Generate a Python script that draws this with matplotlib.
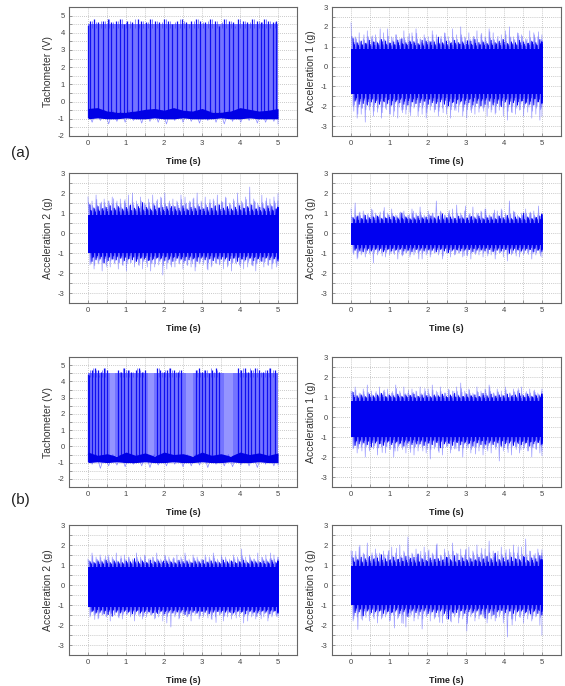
import numpy as np
import matplotlib
matplotlib.use("Agg")
import matplotlib.pyplot as plt
from matplotlib.ticker import MultipleLocator

plt.rcParams['font.family'] = ['Liberation Sans', 'DejaVu Sans']
plt.rcParams['axes.unicode_minus'] = False

# ---------------- data ----------------
time_ticks = [0, 1, 2, 3, 4, 5]
panel_labels = ["(a)", "(b)"]
ylabels = ["Tachometer (V)", "Acceleration 1 (g)", "Acceleration 2 (g)", "Acceleration 3 (g)"]

# Tachometer pulse times (s) and pulse top values (V)
tacho_a_pulses = [0.04, 0.15, 0.27, 0.39, 0.52, 0.61, 0.73, 0.84, 0.96, 1.03, 1.17, 1.31, 1.40, 1.52,
                  1.63, 1.75, 1.88, 1.99, 2.10, 2.21, 2.35, 2.47, 2.58, 2.72, 2.84, 2.96, 3.08, 3.21,
                  3.33, 3.45, 3.58, 3.70, 3.81, 3.94, 4.07, 4.19, 4.31, 4.44, 4.55, 4.63, 4.74, 4.86, 4.96]
tacho_a_tops = [4.7, 4.8, 4.6, 4.7, 4.8, 4.6, 4.7, 4.8, 4.5, 4.7, 4.6, 4.8, 4.7, 4.6,
                4.8, 4.7, 4.6, 4.8, 4.7, 4.5, 4.7, 4.8, 4.6, 4.7, 4.8, 4.7, 4.6, 4.8,
                4.7, 4.4, 4.8, 4.7, 4.6, 4.8, 4.7, 4.6, 4.8, 4.7, 4.6, 4.8, 4.7, 4.6, 4.7]
tacho_b_pulses = [0.03, 0.10, 0.18, 0.26, 0.33, 0.41, 0.50, 0.80, 0.88, 0.95, 1.04, 1.12,
                  1.25, 1.33, 1.41, 1.50, 1.82, 1.90, 1.99, 2.08, 2.17, 2.27, 2.36, 2.45,
                  2.83, 2.91, 3.00, 3.09, 3.18, 3.27, 3.36, 3.45, 3.95, 4.03, 4.12, 4.21,
                  4.30, 4.40, 4.50, 4.60, 4.70, 4.80, 4.92]
tacho_b_tops = [4.4, 4.7, 4.8, 4.7, 4.6, 4.8, 4.7, 4.7, 4.6, 4.8, 4.7, 4.6,
                4.7, 4.8, 4.6, 4.7, 4.8, 4.7, 4.6, 4.7, 4.8, 4.7, 4.6, 4.7,
                4.7, 4.8, 4.6, 4.7, 4.5, 4.7, 4.8, 4.6, 4.8, 4.7, 4.8, 4.6,
                4.7, 4.8, 4.7, 4.6, 4.7, 4.8, 4.7]
tacho_b_gaps = [(0.58, 0.72), (1.58, 1.74), (2.58, 2.76), (3.58, 3.82)]

# Tachometer low-level band (every 0.25 s)
tacho_a_base_hi = [-0.40, -0.35, -0.55, -0.60, -0.60, -0.55, -0.45, -0.40, -0.50, -0.35, -0.50,
                   -0.55, -0.40, -0.60, -0.60, -0.55, -0.35, -0.45, -0.55, -0.50, -0.40]
tacho_a_base_lo = [-1.00, -0.95, -1.00, -1.00, -0.95, -1.00, -1.00, -0.95, -1.00, -1.00, -0.95,
                   -1.00, -1.00, -1.00, -0.95, -1.00, -1.00, -0.95, -1.00, -1.00, -1.00]
tacho_b_base_hi = [-0.35, -0.55, -0.45, -0.60, -0.35, -0.55, -0.40, -0.60, -0.35, -0.50, -0.45,
                   -0.60, -0.35, -0.55, -0.45, -0.60, -0.35, -0.50, -0.40, -0.55, -0.40]
tacho_b_base_lo = [-1.00, -0.95, -1.00, -0.95, -1.00, -1.00, -0.95, -1.00, -1.00, -0.95, -1.00,
                   -1.00, -0.95, -1.00, -1.00, -0.95, -1.00, -1.00, -0.95, -1.00, -1.00]
tacho_a_low_peaks = [-1.2, -1.1, -1.3, -1.15, -1.2, -1.1, -1.25, -1.15, -1.2, -1.3, -1.1, -1.2,
                     -1.15, -1.25, -1.1, -1.2, -1.3, -1.15, -1.2, -1.1, -1.25, -1.2, -1.15, -1.3]
tacho_b_low_peaks = [-1.1, -1.35, -1.2, -1.15, -1.25, -1.1, -1.2, -1.3, -1.15, -1.2, -1.1, -1.25,
                     -1.2, -1.15, -1.3, -1.1, -1.2, -1.25, -1.15, -1.2, -1.3, -1.1, -1.2, -1.15]

# Accelerations: dense core limits and outer peak envelopes (g)
acc1_a_core = (1.0, -1.5)
acc1_a_hi = [2.2, 1.5, 1.7, 1.4, 1.8, 1.5, 1.6, 1.3, 1.7, 1.9, 1.5, 1.6, 1.4, 1.8, 1.5, 1.7, 1.9, 1.4,
             1.6, 1.5, 1.8, 1.6, 1.4, 1.7, 1.5, 1.9, 1.6, 2.0, 1.5, 1.7, 1.4, 1.8, 1.6, 1.5, 1.9, 1.7,
             1.4, 1.6, 1.8, 2.0, 1.5, 1.7, 1.6, 1.4, 1.8, 1.7, 1.5, 1.6]
acc1_a_lo = [-2.0, -2.6, -2.4, -2.8, -2.2, -2.5, -2.3, -2.6, -2.1, -2.4, -2.5, -2.6, -2.2, -2.4, -2.3,
             -2.1, -2.5, -2.4, -2.6, -2.2, -2.3, -2.5, -2.1, -2.4, -2.6, -2.2, -2.3, -2.5, -2.6, -2.2,
             -2.4, -2.3, -2.1, -2.5, -2.3, -2.4, -2.2, -2.5, -2.7, -2.3, -2.4, -2.2, -2.5, -2.3, -2.6,
             -2.4, -2.7, -2.5]
acc2_a_core = (1.0, -1.1)
acc2_a_hi = [1.8, 1.6, 1.9, 1.5, 1.7, 1.6, 1.8, 1.5, 1.7, 1.6, 1.9, 2.0, 1.6, 1.8, 1.5, 1.7, 1.9, 1.6,
             1.8, 2.0, 1.5, 1.7, 1.6, 1.9, 1.8, 1.5, 1.7, 2.0, 1.6, 1.8, 1.5, 1.7, 1.9, 1.6, 1.8, 1.5,
             1.7, 2.0, 1.6, 1.8, 2.3, 1.7, 1.5, 1.9, 1.6, 1.7, 1.8, 1.6]
acc2_a_lo = [-1.6, -1.8, -1.5, -1.9, -1.6, -1.7, -1.5, -1.8, -1.6, -1.9, -1.5, -1.7, -1.6, -1.8, -1.5,
             -1.9, -1.7, -1.6, -2.1, -1.8, -1.6, -1.7, -1.5, -1.8, -1.6, -1.7, -1.9, -1.5, -1.6, -1.8,
             -1.7, -1.5, -1.6, -1.8, -1.7, -1.9, -1.5, -1.6, -1.8, -1.7, -1.6, -1.9, -1.5, -1.7, -1.6,
             -1.8, -1.5, -1.6]
acc3_a_core = (0.6, -0.7)
acc3_a_hi = [1.2, 1.5, 1.0, 1.1, 0.9, 1.2, 1.0, 0.9, 1.1, 1.0, 1.2, 0.9, 1.0, 1.1, 0.9, 1.2, 1.0, 1.3,
             0.9, 1.1, 1.0, 1.6, 1.1, 0.9, 1.0, 1.2, 1.4, 1.0, 1.1, 0.9, 1.3, 1.0, 1.1, 1.2, 0.9, 1.0,
             1.1, 1.2, 1.0, 1.6, 1.1, 0.9, 1.0, 1.2, 1.0, 1.1, 0.9, 1.0]
acc3_a_lo = [-1.0, -1.3, -1.1, -1.2, -1.0, -1.5, -1.1, -1.0, -1.2, -1.1, -1.0, -1.3, -1.1, -1.0, -1.2,
             -1.1, -1.0, -1.3, -1.1, -1.2, -1.0, -1.1, -1.3, -1.0, -1.2, -1.1, -1.0, -1.2, -1.1, -1.3,
             -1.0, -1.1, -1.2, -1.0, -1.1, -1.3, -1.0, -1.2, -1.4, -1.1, -1.0, -1.2, -1.1, -1.0, -1.3,
             -1.1, -1.0, -1.2]
acc1_b_core = (0.9, -1.1)
acc1_b_hi = [1.3, 1.5, 1.2, 1.4, 1.6, 1.3, 1.2, 1.5, 1.3, 1.4, 1.2, 1.6, 1.3, 1.5, 1.2, 1.4, 1.3, 1.5,
             1.2, 1.4, 1.6, 1.3, 1.5, 1.2, 1.4, 1.3, 1.5, 1.7, 1.3, 1.4, 1.2, 1.5, 1.3, 1.4, 1.6, 1.2,
             1.4, 1.3, 1.5, 1.2, 1.4, 1.3, 1.5, 1.2, 1.4, 1.3, 1.2, 1.4]
acc1_b_lo = [-1.6, -1.8, -1.5, -2.0, -1.7, -1.6, -1.9, -1.5, -1.8, -1.6, -2.0, -1.7, -1.5, -1.8, -1.6,
             -1.9, -1.7, -1.5, -1.8, -2.1, -1.6, -1.7, -1.9, -1.5, -1.8, -1.6, -1.7, -2.0, -1.6, -1.8,
             -1.5, -1.7, -1.9, -1.6, -1.8, -1.5, -2.2, -1.7, -1.6, -1.9, -1.5, -1.8, -1.6, -1.7, -2.0,
             -1.6, -1.8, -1.7]
acc2_b_core = (1.0, -1.2)
acc2_b_hi = [1.3, 1.6, 1.4, 1.5, 1.3, 1.5, 1.4, 1.6, 1.3, 1.5, 1.4, 1.3, 1.6, 1.4, 1.5, 1.3, 1.4, 1.6,
             1.3, 1.5, 1.4, 1.3, 1.5, 1.4, 1.6, 1.3, 1.5, 1.4, 1.3, 1.5, 1.4, 1.6, 1.3, 1.5, 1.4, 1.3,
             1.5, 1.4, 1.8, 1.4, 1.5, 1.3, 1.6, 1.4, 1.5, 1.3, 1.5, 1.4]
acc2_b_lo = [-1.6, -1.5, -1.7, -1.5, -1.6, -1.8, -1.5, -1.6, -1.7, -1.5, -1.6, -1.8, -1.5, -1.7, -1.6,
             -1.5, -1.7, -1.6, -1.8, -1.9, -2.1, -1.6, -1.7, -1.5, -1.6, -1.8, -1.5, -1.7, -1.6, -1.5,
             -1.7, -1.6, -1.5, -1.8, -1.6, -1.7, -1.5, -1.6, -1.9, -1.8, -1.6, -1.7, -1.5, -1.6, -1.8,
             -1.6, -1.5, -1.6]
acc3_b_core = (1.05, -1.1)
acc3_b_hi = [1.7, 1.5, 1.9, 1.6, 2.1, 1.5, 1.8, 1.6, 1.7, 1.5, 1.9, 1.6, 2.0, 1.7, 2.4, 1.6, 1.8, 1.5,
             1.9, 1.7, 1.6, 2.0, 1.5, 1.8, 1.7, 2.1, 1.6, 1.8, 1.5, 1.9, 1.7, 2.0, 1.6, 1.8, 2.2, 1.7,
             1.5, 1.9, 1.6, 1.8, 2.0, 1.6, 1.9, 2.3, 1.7, 1.5, 1.8, 1.6]
acc3_b_lo = [-1.8, -1.6, -1.7, -1.5, -1.8, -1.6, -1.9, -1.7, -1.6, -1.8, -1.5, -1.7, -1.9, -2.1, -1.6,
             -1.8, -1.7, -2.2, -1.6, -1.8, -1.7, -1.6, -1.9, -1.7, -1.8, -1.6, -1.9, -1.7, -2.3, -1.6,
             -1.8, -1.7, -1.6, -1.9, -1.7, -1.8, -1.6, -1.9, -2.6, -1.7, -1.8, -1.6, -1.9, -1.7, -1.8,
             -1.6, -2.0, -2.5]

# ---------------- figure ----------------
W, H = 565, 686
fig = plt.figure(figsize=(W / 100, H / 100), dpi=100)
fig.patch.set_facecolor('white')

BLUE = '#0000f0'
HALO = '#3c3cff'


def add_ax(x0, top, x1, bottom):
    return fig.add_axes([x0 / W, 1 - bottom / H, (x1 - x0) / W, (bottom - top) / H])


def style(ax, ylabel, ylim, yticks):
    ax.set_xlim(-0.5, 5.5)
    ax.set_ylim(*ylim)
    ax.set_xticks(time_ticks)
    ax.set_yticks(yticks)
    ax.xaxis.set_minor_locator(MultipleLocator(0.5))
    ax.yaxis.set_minor_locator(MultipleLocator(0.5))
    ax.grid(True, which='both', color='#b8b8b8', linestyle=(0, (1, 1.5)), linewidth=0.6)
    ax.set_axisbelow(True)
    ax.tick_params(which='both', direction='in', length=2, width=0.5, color='#777777',
                   labelsize=5.5, labelcolor='#444444', pad=3)
    for s in ax.spines.values():
        s.set_color('#666666')
        s.set_linewidth(0.8)
    ax.set_xlabel('Time (s)', fontsize=6.5, color='#222222', fontweight='bold', labelpad=7)
    ax.set_ylabel(ylabel, fontsize=7.5, color='#333333', labelpad=4)


def zigzag(ax, t, top, bot, phase, **kw):
    n = len(t)
    dt = t[1] - t[0]
    x = np.empty(2 * n)
    y = np.empty(2 * n)
    x[0::2] = np.clip(t + phase * dt, 0, 5)
    x[1::2] = np.clip(t + (phase + 0.5) * dt, 0, 5)
    y[0::2] = top
    y[1::2] = bot
    ax.plot(x, y, **kw)


def draw_acc(ax, core, hi, lo):
    hi = np.asarray(hi, float)
    lo = np.asarray(lo, float)
    t = np.linspace(0, 5, len(hi))
    fracs = [1.0, 0.75, 0.55, 0.4, 0.25, 0.12]
    for k, f in enumerate(fracs):
        top = core[0] + f * (np.roll(hi, 7 * k) - core[0])
        bot = core[1] + f * (np.roll(lo, 11 * k) - core[1])
        if f >= 0.5:
            zigzag(ax, t, top, bot, k / len(fracs), color=HALO, lw=0.5, alpha=0.5, zorder=2)
        else:
            zigzag(ax, t, top, bot, k / len(fracs), color=BLUE, lw=0.7, zorder=3)
    ax.fill_between([0, 5], core[1] + 0.1, core[0] - 0.1, color=BLUE, lw=0, zorder=3)


def draw_tacho(ax, pulses, tops, base_hi, base_lo, low_peaks, gaps=None):
    bt = np.linspace(0, 5, len(base_hi))
    pulses = np.asarray(pulses, float)
    tops = np.asarray(tops, float)
    ax.fill_between([0, 5], -0.6, 4.5, color='#7474ff', lw=0, zorder=2)
    if gaps:
        for g0, g1 in gaps:
            ax.fill_between([g0, g1], -0.6, 4.5, color='#9494ff', lw=0, zorder=2)
    # jagged top edge: short ticks between neighbouring pulses of a group
    mids = (pulses[:-1] + pulses[1:]) / 2
    close = np.diff(pulses) < 0.16
    ax.vlines(mids[close], 4.3, np.roll(tops, 3)[:-1][close], color=HALO, lw=0.6, alpha=0.7, zorder=3)
    ax.vlines(pulses, -0.7, tops, color='#1010f0', lw=0.9, zorder=3)
    lt = np.linspace(0, 5, len(low_peaks))
    zigzag(ax, lt, [-0.5] * len(low_peaks), low_peaks, 0.0,
           color=HALO, lw=0.5, alpha=0.6, zorder=3)
    ax.fill_between(bt, base_lo, base_hi, color='#0000e6', lw=0, zorder=4)
    ax.plot([0, 0], [-0.9, 4.4], color='#1010f0', lw=0.9, zorder=3)


cols = [(69, 297), (332, 561)]
rows = [(7, 136), (173, 303), (357, 487), (525, 655)]

acc_ylim = (-3.5, 3)
acc_ticks = [-3, -2, -1, 0, 1, 2, 3]

# (a)
ax = add_ax(cols[0][0], rows[0][0], cols[0][1], rows[0][1])
style(ax, ylabels[0], (-2, 5.5), [-2, -1, 0, 1, 2, 3, 4, 5])
draw_tacho(ax, tacho_a_pulses, tacho_a_tops, tacho_a_base_hi, tacho_a_base_lo, tacho_a_low_peaks)

ax = add_ax(cols[1][0], rows[0][0], cols[1][1], rows[0][1])
style(ax, ylabels[1], acc_ylim, acc_ticks)
draw_acc(ax, acc1_a_core, acc1_a_hi, acc1_a_lo)

ax = add_ax(cols[0][0], rows[1][0], cols[0][1], rows[1][1])
style(ax, ylabels[2], acc_ylim, acc_ticks)
draw_acc(ax, acc2_a_core, acc2_a_hi, acc2_a_lo)

ax = add_ax(cols[1][0], rows[1][0], cols[1][1], rows[1][1])
style(ax, ylabels[3], acc_ylim, acc_ticks)
draw_acc(ax, acc3_a_core, acc3_a_hi, acc3_a_lo)

# (b)
ax = add_ax(cols[0][0], rows[2][0], cols[0][1], rows[2][1])
style(ax, ylabels[0], (-2.5, 5.5), [-2, -1, 0, 1, 2, 3, 4, 5])
draw_tacho(ax, tacho_b_pulses, tacho_b_tops, tacho_b_base_hi, tacho_b_base_lo, tacho_b_low_peaks,
           gaps=tacho_b_gaps)

ax = add_ax(cols[1][0], rows[2][0], cols[1][1], rows[2][1])
style(ax, ylabels[1], acc_ylim, acc_ticks)
draw_acc(ax, acc1_b_core, acc1_b_hi, acc1_b_lo)

ax = add_ax(cols[0][0], rows[3][0], cols[0][1], rows[3][1])
style(ax, ylabels[2], acc_ylim, acc_ticks)
draw_acc(ax, acc2_b_core, acc2_b_hi, acc2_b_lo)

ax = add_ax(cols[1][0], rows[3][0], cols[1][1], rows[3][1])
style(ax, ylabels[3], acc_ylim, acc_ticks)
draw_acc(ax, acc3_b_core, acc3_b_hi, acc3_b_lo)

fig.text(20 / W, 1 - 153 / H, panel_labels[0], fontsize=11, color='#222222', ha='center', va='center')
fig.text(20 / W, 1 - 500 / H, panel_labels[1], fontsize=11, color='#222222', ha='center', va='center')

fig.savefig('out.png', dpi=100)
